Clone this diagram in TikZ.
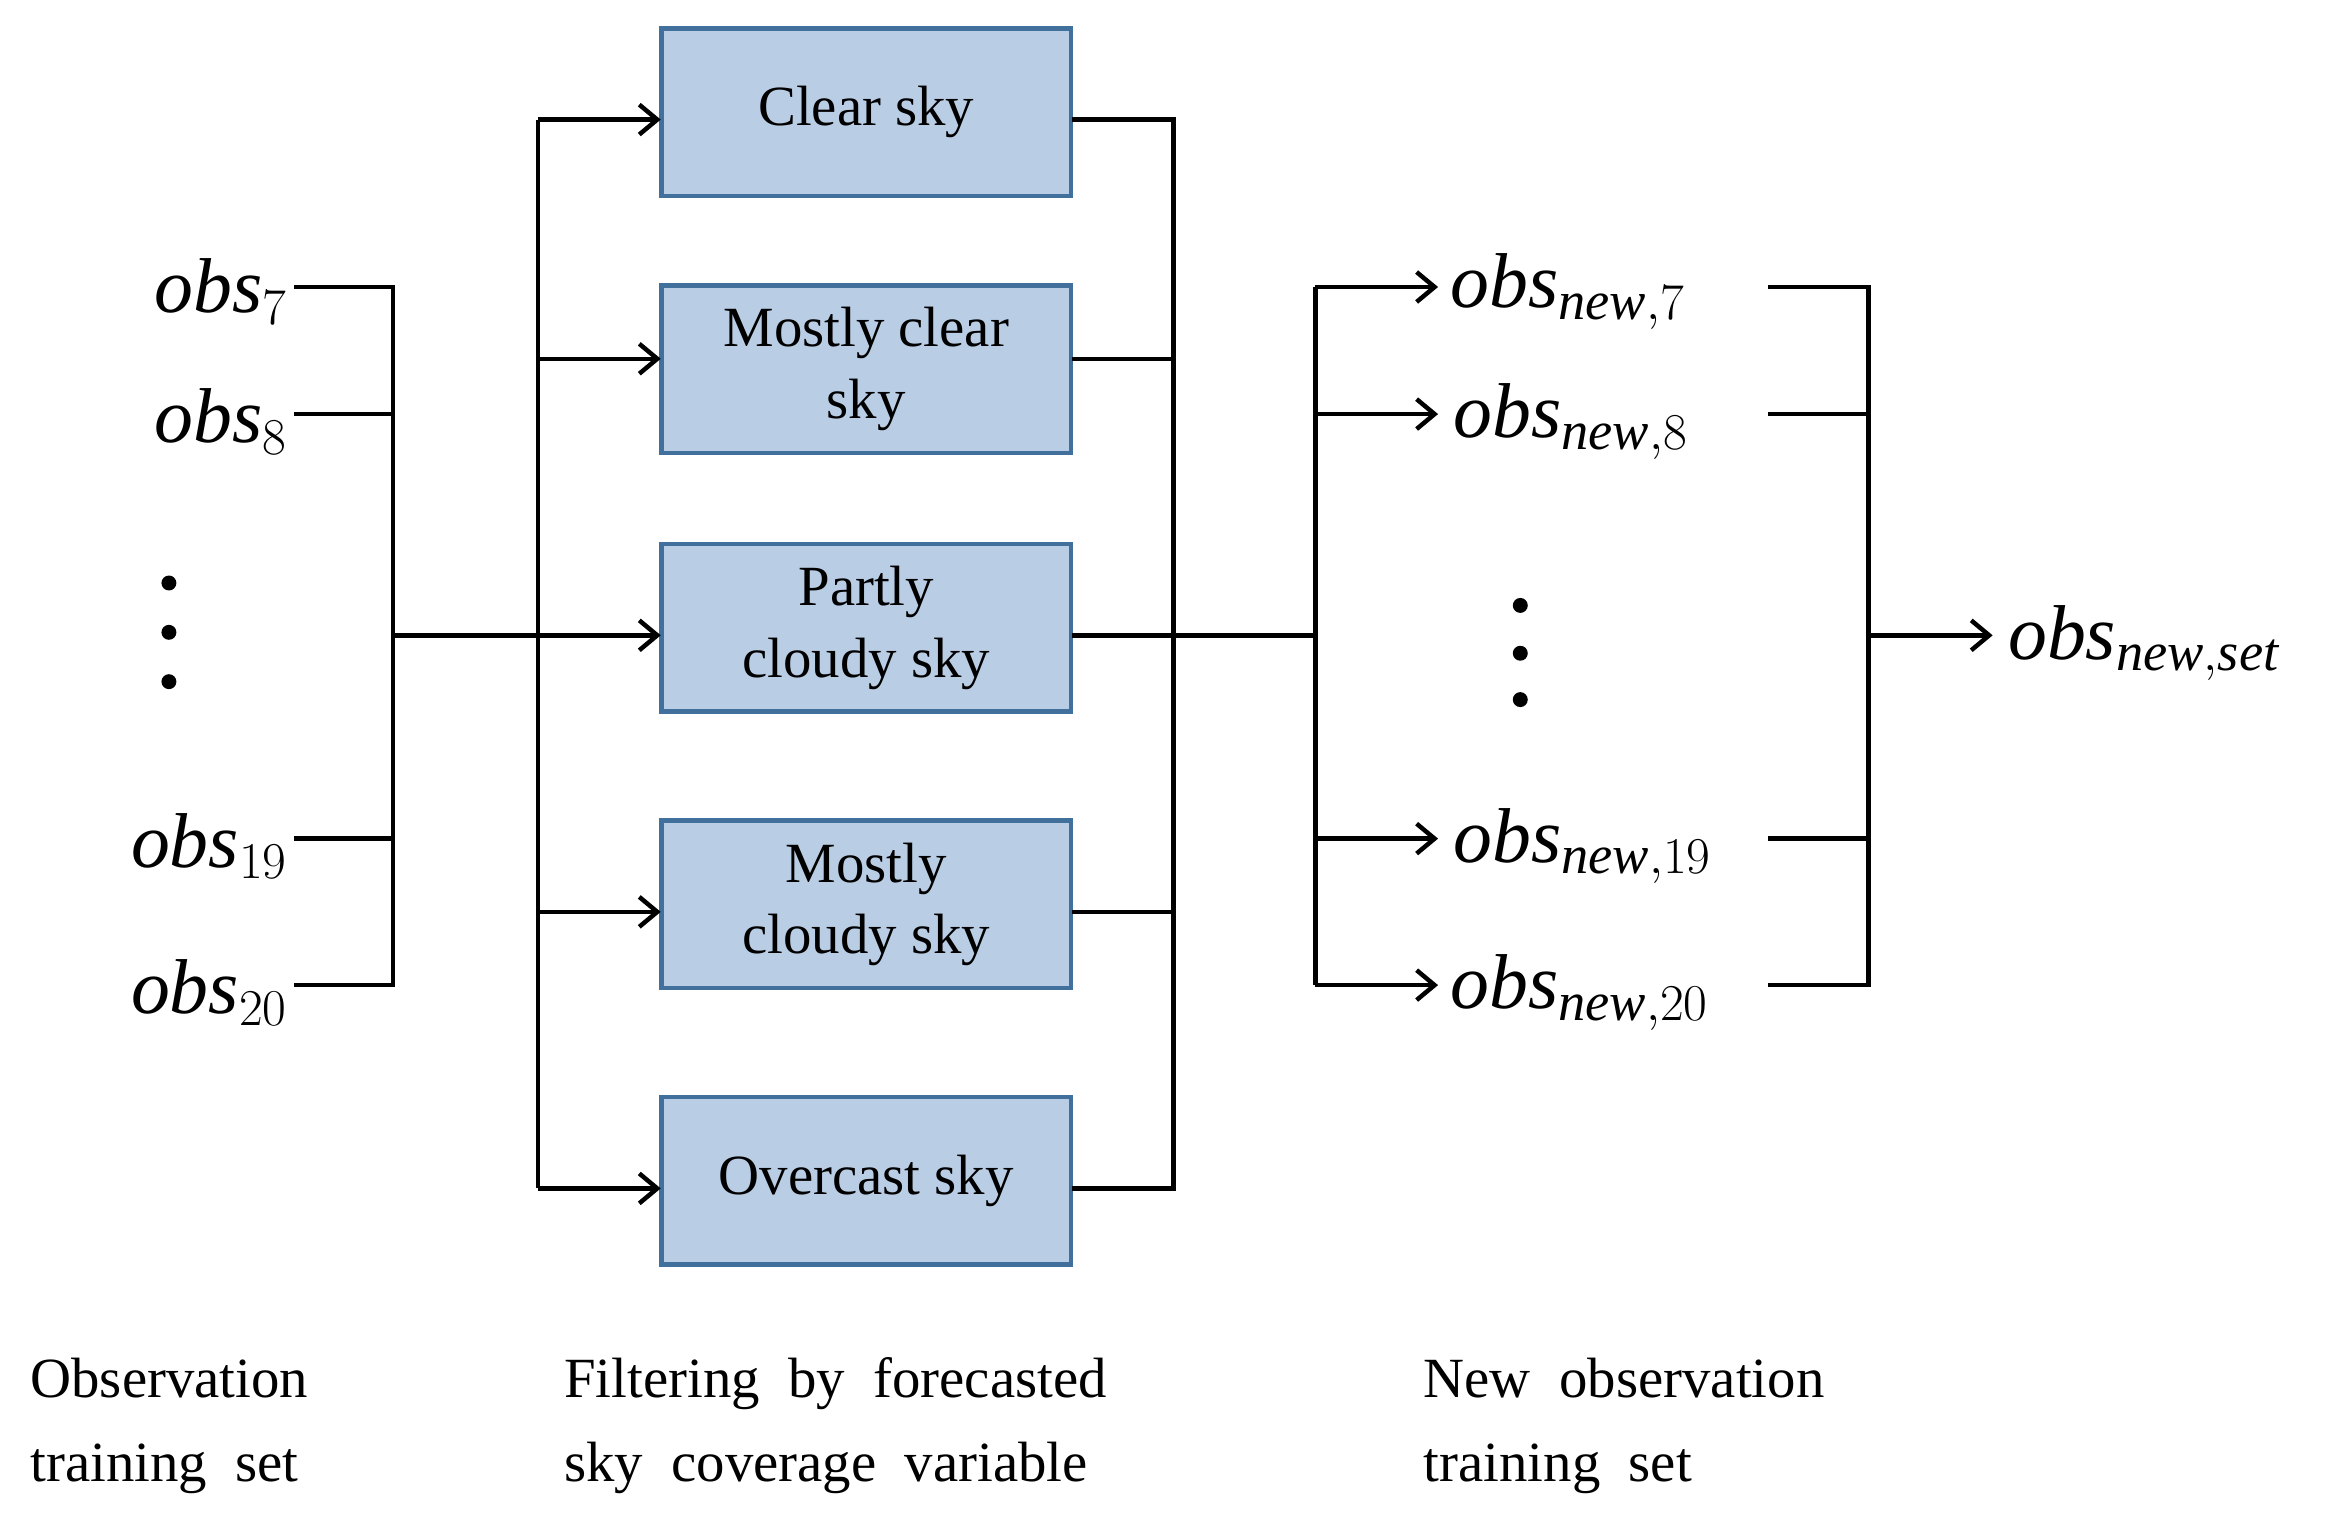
\documentclass[tikz,border=0pt]{standalone}
\usepackage{fontspec}
\setmainfont{Liberation Serif}
\usetikzlibrary{arrows.meta}
\definecolor{boxfill}{HTML}{B9CDE5}
\definecolor{boxline}{HTML}{41709C}
\begin{document}
\begin{tikzpicture}[x=0.5pt,y=-0.5pt,
  box/.style={draw=boxline,fill=boxfill,line width=1.5pt,minimum width=137pt,minimum height=56pt,align=center,font=\fontsize{19}{24}\selectfont,inner sep=1pt},
  ln/.style={line width=1.5pt},
  ar/.style={line width=1.5pt,-{Straight Barb[length=6pt,width=10pt]}},
  obs/.style={font=\fontsize{26}{30}\selectfont,inner sep=0pt},
  captxt/.style={font=\fontsize{19}{28}\selectfont,align=left,anchor=north west,inner sep=0pt},
  dot/.style={circle,fill,inner sep=0pt,minimum size=5pt}]
\useasboundingbox (0,0) rectangle (1560,1027);
% boxes
\node[box] (b1) at (579.5,75) {Clear sky};
\node[box] (b2) at (579.5,247) {Mostly clear\\sky};
\node[box] (b3) at (579.5,420) {Partly\\cloudy sky};
\node[box] (b4) at (579.5,605) {Mostly\\cloudy sky};
\node[box] (b5) at (579.5,790) {Overcast sky};
% left labels
\node[obs,anchor=east] (o7) at (193,195) {$\mathit{obs}_{7}$};
\node[obs,anchor=east] (o8) at (193,282) {$\mathit{obs}_{8}$};
\node[obs,anchor=east] (o19) at (193,566) {$\mathit{obs}_{19}$};
\node[obs,anchor=east] (o20) at (193,664) {$\mathit{obs}_{20}$};
\node[dot] (d1) at (113,390) {};
\node[dot] (d2) at (113,423) {};
\node[dot] (d3) at (113,456) {};
\coordinate (la) at (263,192);
\coordinate (lb) at (263,659);
\coordinate (lm) at (263,425);
\draw[ln] (197,192) -| (la) -- (lb) -| (197,659);
\draw[ln] (197,277) -- (263,277);
\draw[ln] (197,561) -- (263,561);
\draw[ar] (lm) -- (442,425);
% split
\draw[ln] (360,80) -- (360,795);
\draw[ar] (360,80) -- (442,80);
\draw[ar] (360,240) -- (442,240);
\draw[ar] (360,610) -- (442,610);
\draw[ar] (360,795) -- (442,795);
% merge
\draw[ln] (717,80) -| (785,795) -- (717,795);
\draw[ln] (717,240) -- (785,240);
\draw[ln] (717,610) -- (785,610);
\draw[ln] (717,425) -- (880,425);
\draw[ln] (880,192) -- (880,659);
% right labels
\node[obs,anchor=west] (n7) at (970,195) {$\mathit{obs}_{\mathit{new},7}$};
\node[obs,anchor=west] (n8) at (972,282) {$\mathit{obs}_{\mathit{new},8}$};
\node[obs,anchor=west] (n19) at (972,566) {$\mathit{obs}_{\mathit{new},19}$};
\node[obs,anchor=west] (n20) at (970,664) {$\mathit{obs}_{\mathit{new},20}$};
\draw[ar] (880,192) -- (962,192);
\draw[ar] (880,277) -- (962,277);
\draw[ar] (880,561) -- (962,561);
\draw[ar] (880,659) -- (962,659);
\node[dot] at (1017,405) {};
\node[dot] at (1017,437) {};
\node[dot] at (1017,468) {};
\draw[ln] (1183,192) -| (1250,659) -- (1183,659);
\draw[ln] (1183,277) -- (1250,277);
\draw[ln] (1183,561) -- (1250,561);
\node[obs,anchor=west] (ns) at (1343,430) {$\mathit{obs}_{\mathit{new},\mathit{set}}$};
\draw[ar] (1250,425) -- (1333,425);
% captions
\node[captxt] (c1) at (20,908) {Observation\\training\ \ set};
\node[captxt] (c2) at (377,908) {Filtering\ \ by\ \ forecasted\\sky\ \ coverage\ \ variable};
\node[captxt] (c3) at (952,908) {New\ \ observation\\training\ \ set};
\end{tikzpicture}
\end{document}
